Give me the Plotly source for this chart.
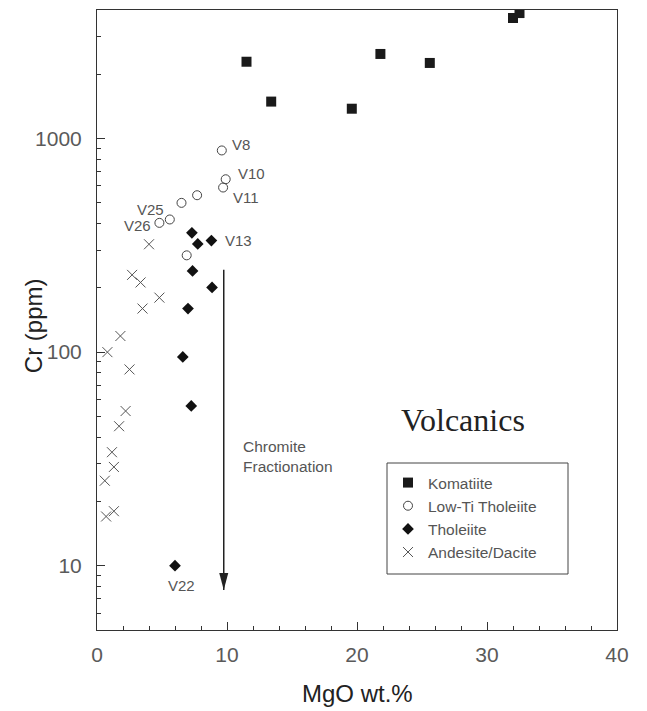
import numpy as np
import plotly.graph_objects as go

# MgO (wt.%) and Cr (ppm) for each volcanic group
komatiite_mgo = [11.5, 13.4, 19.6, 21.8, 25.6, 32.0, 32.5]
komatiite_cr = [2290, 1490, 1380, 2490, 2260, 3670, 3870]

low_ti_mgo = [9.6, 9.9, 9.7, 7.7, 6.5, 5.6, 4.8, 6.9]
low_ti_cr = [880, 645, 590, 543, 500, 418, 403, 284]
low_ti_ids = ["V8", "V10", "V11", "", "", "V25", "V26", ""]

tholeiite_mgo = [7.3, 7.75, 8.8, 7.35, 8.85, 7.0, 6.6, 7.25, 6.0]
tholeiite_cr = [362, 321, 333, 240, 201, 160, 95, 56, 10]
tholeiite_ids = ["", "", "V13", "", "", "", "", "", "V22"]

andesite_mgo = [4.0, 2.7, 3.35, 4.8, 3.5, 1.8, 0.8, 2.5, 2.2, 1.7, 1.15, 1.3, 0.6, 1.3, 0.7]
andesite_cr = [320, 230, 212, 180, 160, 119, 100, 83, 53, 45, 34, 29, 25, 18, 17]

# axis extents and tick marks
x_range = [0, 40]
y_range = [5, 4000]
y_major = [10, 100, 1000]
y_minor = [5, 6, 7, 8, 9, 20, 30, 40, 50, 60, 70, 80, 90,
           200, 300, 400, 500, 600, 700, 800, 900, 2000, 3000, 4000]

# chromite fractionation vector (MgO, Cr start -> end)
arrow_mgo = 9.75
arrow_cr_start = 247
arrow_cr_end = 7.7

# label offsets (px) for annotated samples: (xshift, yshift, anchor)
label_offsets = {
    "V8": (8, 6, "left"),
    "V10": (10, 6, "left"),
    "V11": (8, -10, "left"),
    "V13": (12, 0, "left"),
    "V25": (-4, 10, "right"),
    "V26": (-6, -3, "right"),
    "V22": (6, -20, "center"),
}

W, H = 647, 711
ML, MR, MT, MB = 97, 30, 10, 81
PW, PH = W - ML - MR, H - MT - MB

fig = go.Figure()

fig.add_trace(go.Scatter(
    x=komatiite_mgo, y=komatiite_cr, mode="markers", name="Komatiite",
    marker=dict(symbol="square", size=10, color="#1a1a1a"),
))
fig.add_trace(go.Scatter(
    x=low_ti_mgo, y=low_ti_cr, mode="markers", name="Low-Ti Tholeiite",
    marker=dict(symbol="circle-open", size=9, color="#444444", line=dict(width=1)),
))
fig.add_trace(go.Scatter(
    x=tholeiite_mgo, y=tholeiite_cr, mode="markers", name="Tholeiite",
    marker=dict(symbol="diamond", size=9, color="#111111"),
))
fig.add_trace(go.Scatter(
    x=andesite_mgo, y=andesite_cr, mode="markers", name="Andesite/Dacite",
    marker=dict(symbol="x-thin-open", size=10, color="#555555", line=dict(width=1)),
))

label_font = dict(family="Liberation Sans, Arial, sans-serif", size=15, color="#555555")
annotations = []
for xs, ys, ids in [(low_ti_mgo, low_ti_cr, low_ti_ids),
                    (tholeiite_mgo, tholeiite_cr, tholeiite_ids)]:
    for xv, yv, lab in zip(xs, ys, ids):
        if not lab:
            continue
        dx, dy, anchor = label_offsets[lab]
        annotations.append(dict(
            x=xv, y=np.log10(yv), xref="x", yref="y", text=lab,
            showarrow=False, xanchor=anchor, yanchor="middle",
            xshift=dx, yshift=dy, font=label_font,
        ))

# arrow shaft
annotations.append(dict(
    x=arrow_mgo, y=np.log10(arrow_cr_end), ax=arrow_mgo, ay=np.log10(arrow_cr_start),
    xref="x", yref="y", axref="x", ayref="y", text="", showarrow=True,
    arrowhead=0, arrowwidth=1.5, arrowcolor="#222222",
))

annotations.append(dict(
    x=11.1, y=1.51, xref="x", yref="y", text="Chromite<br>Fractionation",
    showarrow=False, xanchor="left", yanchor="middle", align="left",
    font=dict(family="Liberation Sans, Arial, sans-serif", size=15.5, color="#555555"),
))
annotations.append(dict(
    x=28.15, y=1.68, xref="x", yref="y", text="Volcanics",
    showarrow=False, xanchor="center", yanchor="middle",
    font=dict(family="Liberation Serif, Times New Roman, serif", size=32, color="#222222"),
))
annotations.append(dict(
    x=-64 / PW, y=0.49, xref="paper", yref="paper", text="Cr (ppm)",
    textangle=-90, showarrow=False, xanchor="center", yanchor="middle",
    font=dict(family="Liberation Sans, Arial, sans-serif", size=24, color="#222222"),
))
annotations.append(dict(
    x=0.5, y=-63 / PH, xref="paper", yref="paper", text="MgO wt.%",
    showarrow=False, xanchor="center", yanchor="middle",
    font=dict(family="Liberation Sans, Arial, sans-serif", size=24, color="#222222"),
))

shapes = [
    # arrowhead at the end of the fractionation vector
    dict(type="path", xref="x", yref="y", xsizemode="pixel", ysizemode="pixel",
         xanchor=arrow_mgo, yanchor=arrow_cr_end,
         path="M -4.5,17 L 4.5,17 L 0,0 Z",
         fillcolor="#222222", line=dict(width=0)),
    # legend frame
    dict(type="rect", xref="paper", yref="paper",
         x0=(387 - ML) / PW, x1=(568 - ML) / PW,
         y0=(H - MB - 574) / PH, y1=(H - MB - 463) / PH,
         line=dict(color="#444444", width=1), fillcolor="rgba(0,0,0,0)"),
]

tick_font = dict(family="Liberation Sans, Arial, sans-serif", size=21, color="#5a5a5a")

fig.update_layout(
    width=W, height=H,
    margin=dict(l=ML, r=MR, t=MT, b=MB),
    paper_bgcolor="white", plot_bgcolor="white",
    showlegend=True,
    legend=dict(
        x=(388 - ML) / PW, y=(H - MB - 466) / PH,
        xanchor="left", yanchor="top",
        bgcolor="rgba(0,0,0,0)", borderwidth=0,
        font=dict(family="Liberation Sans, Arial, sans-serif", size=15.5, color="#555555"),
        tracegroupgap=0,
    ),
    xaxis=dict(
        range=x_range, showgrid=False, zeroline=False,
        showline=True, linecolor="#333333", linewidth=1, mirror=True,
        ticks="inside", ticklen=8, tickcolor="#333333", dtick=10,
        minor=dict(ticks="inside", ticklen=4, dtick=2, tickcolor="#333333"),
        tickfont=tick_font, ticklabelstandoff=6,
    ),
    yaxis=dict(
        type="log", range=[np.log10(y_range[0]), np.log10(y_range[1])],
        showgrid=False, zeroline=False,
        showline=True, linecolor="#333333", linewidth=1, mirror=True,
        ticks="inside", ticklen=8, tickcolor="#333333",
        tickmode="array", tickvals=y_major, ticktext=[str(v) for v in y_major],
        minor=dict(ticks="inside", ticklen=4, tickcolor="#333333",
                   tickmode="array", tickvals=y_minor),
        tickfont=tick_font, ticklabelstandoff=10,
    ),
    annotations=annotations,
    shapes=shapes,
)

fig.write_html("out.html")
